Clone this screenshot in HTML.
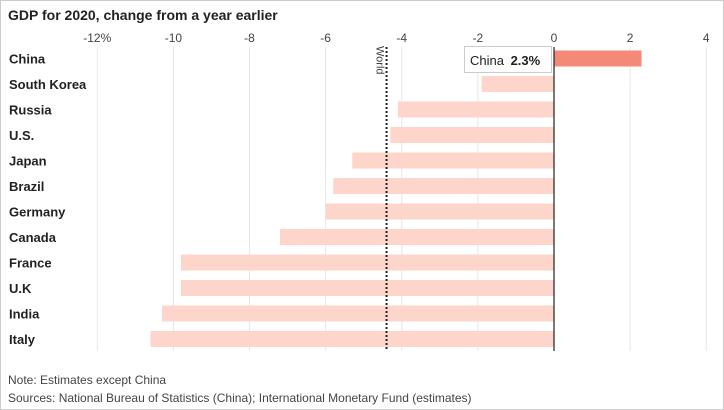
<!DOCTYPE html>
<html><head><meta charset="utf-8"><style>
body{margin:0;background:#fff;font-family:"Liberation Sans",sans-serif}
#wrap{position:relative;width:722px;height:408px;border:1px solid #ccc;overflow:hidden}
</style></head><body>
<div id="wrap">
<svg id="chart" width="722" height="408"></svg>
</div>
<script>
const categories=["China","South Korea","Russia","U.S.","Japan","Brazil","Germany","Canada","France","U.K","India","Italy"];
const values=[2.3,-1.9,-4.1,-4.3,-5.3,-5.8,-6.0,-7.2,-9.8,-9.8,-10.3,-10.6];
const ticks=[-12,-10,-8,-6,-4,-2,0,2,4];
const tickLabels=["-12%","-10","-8","-6","-4","-2","0","2","4"];
const worldValue=-4.4;
const ns="http://www.w3.org/2000/svg";
const svg=document.getElementById('chart');
const x=v=>553+(v)*38.06;
const y=i=>57.5+i*25.5;
function mk(t,a,txt){const e=document.createElementNS(ns,t);for(const k in a)e.setAttribute(k,a[k]);if(txt!=null)e.textContent=txt;svg.appendChild(e);return e;}
let e=mk('text',{x:7,y:19,'font-size':14,'font-weight':'bold',fill:'#222'},'GDP for 2020, change from a year earlier');

ticks.forEach((t,i)=>{
 let g=mk('line',{x1:x(t),x2:x(t),y1:46,y2:350,stroke:'#e6e6e6','stroke-width':1});
 
 let l=mk('text',{x:x(t),y:41,'text-anchor':'middle','font-size':12,fill:'#444'},tickLabels[i]);
 
});
categories.forEach((c,i)=>{
 const v=values[i];
 let r=mk('rect',{x:Math.min(x(0),x(v)),y:y(i)-8,width:Math.abs(x(v)-x(0)),height:16,fill:v>0?'#f4897a':'#fdd5cb'});
 
 let t=mk('text',{x:8,y:y(i)+5,'font-size':13,'font-weight':'bold',fill:'#222'},c);
 
});
e=mk('line',{x1:x(0),x2:x(0),y1:46,y2:350,stroke:'#222','stroke-width':1.2});

e=mk('line',{x1:x(worldValue),x2:x(worldValue),y1:46,y2:350,stroke:'#222','stroke-width':2,'stroke-dasharray':'2,2'});

e=mk('text',{x:0,y:0,'font-size':11,fill:'#444',transform:`translate(${x(worldValue)-10},45) rotate(90)`},'World');

e=mk('rect',{x:463.5,y:45.5,width:87,height:26,fill:'#fff',stroke:'#ccc'});

e=mk('text',{x:469,y:64,'font-size':13,fill:'#222'});
e.innerHTML='China <tspan font-weight="bold" dx="3">'+values[0].toFixed(1)+'%</tspan>';

e=mk('text',{x:7,y:383,'font-size':12,fill:'#444'},'Note: Estimates except China');

e=mk('text',{x:7,y:401,'font-size':12,fill:'#444'},'Sources: National Bureau of Statistics (China); International Monetary Fund (estimates)');

</script>
</body></html>
